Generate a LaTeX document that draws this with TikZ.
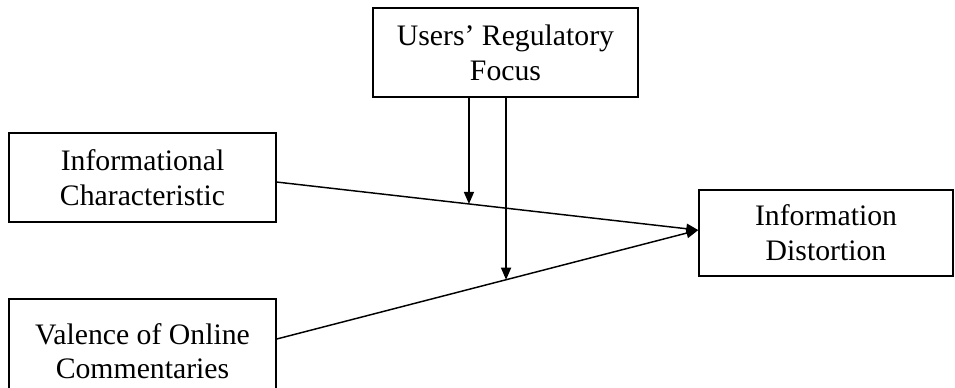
\documentclass[tikz,border=0pt]{standalone}
\usepackage{fontspec}
\setmainfont{Liberation Serif}
\usetikzlibrary{arrows.meta}

\begin{document}
\begin{tikzpicture}[x=0.75pt, y=-0.75pt, line width=1.1pt,
		box/.style={shape=rectangle, draw, align=center, inner sep=0pt, font=\fontsize{22.3}{26}\selectfont},
		link/.style={-{Triangle[length=9pt,width=7.5pt]}}]
		
		\useasboundingbox (0,0) rectangle (955,387);
		
		\node (focus) at (505.5,52.5) [box, minimum width=265*0.75pt, minimum height=89*0.75pt] {Users' Regulatory\\ Focus};
		\node (infochar) at (142.5,177.5) [box, minimum width=267*0.75pt, minimum height=89*0.75pt] {Informational\\ Characteristic};
		\node (valence) at (142.5,351) [box, minimum width=267*0.75pt, minimum height=104*0.75pt] {Valence of Online\\ Commentaries};
		\node (distortion) at (826,233) [box, minimum width=254*0.75pt, minimum height=86*0.75pt] {Information\\ Distortion};
		
		\draw[link]
		([yshift=-3.4pt]infochar.east) -- coordinate[pos=0.456] (m1) ([yshift=2.2pt]distortion.west);
		\draw[link]
		([yshift=9pt]valence.east) -- coordinate[pos=0.544] (m2) ([yshift=2.2pt]distortion.west);
		\draw[link]
		(focus.south -| m1) -- (m1);
		\draw[link]
		(focus.south -| m2) -- (m2);
	\end{tikzpicture}
\end{document}
